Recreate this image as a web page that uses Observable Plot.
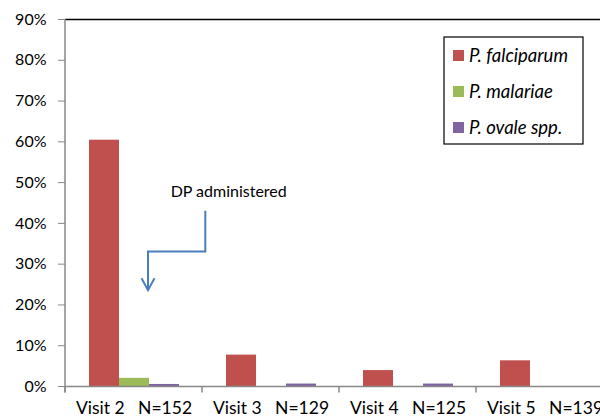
<!DOCTYPE html>
<html>
<head>
<meta charset="utf-8">
<script src="https://cdn.jsdelivr.net/npm/d3@7"></script>
<script src="https://cdn.jsdelivr.net/npm/@observablehq/plot@0.6"></script>
<style>
  html, body { margin: 0; padding: 0; background: #fff; }
  #wrap { width: 600px; height: 419px; overflow: hidden; position: relative; }
  #wrap svg { font-family: Lato, "Open Sans", sans-serif; max-width: none !important; }
  [aria-label^="y-axis"] line, [aria-label="y-axis tick"] path, [aria-label="y-axis tick"] { stroke: #888; }
</style>
</head>
<body>
<div id="wrap"></div>
<script>
const visits = ["Visit 2", "Visit 3", "Visit 4", "Visit 5"];
const visitN = ["N=152", "N=129", "N=125", "N=139"];
const species = ["P. falciparum", "P. malariae", "P. ovale spp."];
const falciparum = [60.4, 7.7, 3.9, 6.3];
const malariae = [2.0, 0, 0, 0];
const ovale = [0.5, 0.6, 0.6, 0];
const colors = ["#c0504d", "#9bbb59", "#8064a2"];
const yTicks = [0, 10, 20, 30, 40, 50, 60, 70, 80, 90];
const annotationText = "DP administered";
// arrow path in (visit-band units from left edge of Visit 2, percent)
const arrowX = [1.024, 1.024, 0.606, 0.606];
const arrowY = [43, 33, 33, 23.5];
const textPos = [1.195, 46.4];

const seriesValues = [falciparum, malariae, ovale];
const rows = visits.flatMap((v, i) => species.map((s, j) => ({visit: v, species: s, value: seriesValues[j][i]})));

const gray = "#888";
const plot = Plot.plot({
  width: 614,
  height: 419,
  marginLeft: 63,
  marginRight: 0,
  marginTop: 19,
  marginBottom: 33,
  style: {fontSize: "16px", fontFamily: "Lato, sans-serif", color: "#000", background: "#fff", maxWidth: "none"},
  fx: {domain: visits, padding: 0, axis: null},
  x: {domain: species, paddingInner: 0, paddingOuter: 0.75, axis: null},
  y: {domain: [0, 90], ticks: yTicks, tickFormat: d => d + "%", tickSize: 7, tickPadding: 12, label: null},
  color: {domain: species, range: colors},
  marks: [
    Plot.barY(rows, {fx: "visit", x: "species", y: "value", fill: "species"}),
    Plot.ruleY([0], {stroke: gray, strokeWidth: 1.5}),
    Plot.ruleY([90], {stroke: "#000", strokeWidth: 1.5}),
    Plot.text(visits, {fx: d => d, frameAnchor: "bottom", dy: 27, text: (d, i) => d + "\u00a0\u00a0\u00a0" + visitN[i], fontSize: 17.5, fill: "#000"})
  ]
});
plot.style.maxWidth = "none";
document.getElementById("wrap").appendChild(plot);

const svg = d3.select(plot);
const fx = plot.scale("fx");
const y = plot.scale("y");
const x0 = fx.apply(visits[0]);
const step = fx.apply(visits[1]) - fx.apply(visits[0]);
const px = f => x0 + f * step;
const g = svg.append("g").attr("text-anchor", "start");

// y axis line
g.append("line").attr("x1", x0).attr("x2", x0).attr("y1", y.apply(90)).attr("y2", y.apply(0) + 6.5)
  .attr("stroke", gray).attr("stroke-width", 1.5);
// category boundary ticks
visits.forEach(v => {
  const xx = fx.apply(v);
  g.append("line").attr("x1", xx).attr("x2", xx).attr("y1", y.apply(0)).attr("y2", y.apply(0) + 6.5)
    .attr("stroke", gray).attr("stroke-width", 1.5);
});

// annotation
const arrowColor = "#4a7ebb";
const pts = arrowX.map((a, i) => [px(a), y.apply(arrowY[i])]);
g.append("path").attr("d", d3.line()(pts)).attr("fill", "none").attr("stroke", arrowColor).attr("stroke-width", 2);
const tip = pts[pts.length - 1];
g.append("path").attr("d", `M${tip[0] - 6.5},${tip[1] - 12}L${tip[0]},${tip[1]}L${tip[0] + 6.5},${tip[1] - 12}`)
  .attr("fill", "none").attr("stroke", arrowColor).attr("stroke-width", 2);
g.append("text").attr("x", px(textPos[0])).attr("y", y.apply(textPos[1])).attr("text-anchor", "middle")
  .attr("font-size", 16).attr("fill", "#000").text(annotationText);

// legend
const lg = g.append("g");
lg.append("rect").attr("x", 444).attr("y", 37).attr("width", 139).attr("height", 107)
  .attr("fill", "#fff").attr("stroke", "#000").attr("stroke-width", 1.2);
species.forEach((s, i) => {
  const cy = 55.5 + i * 36;
  lg.append("rect").attr("x", 453).attr("y", cy - 5.5).attr("width", 11).attr("height", 11).attr("fill", colors[i]);
  lg.append("text").attr("x", 469).attr("y", cy).attr("dy", "0.35em").attr("font-size", 18.5)
    .attr("text-anchor", "start").attr("font-style", "italic").attr("fill", "#000").text(s);
});
</script>
</body>
</html>
